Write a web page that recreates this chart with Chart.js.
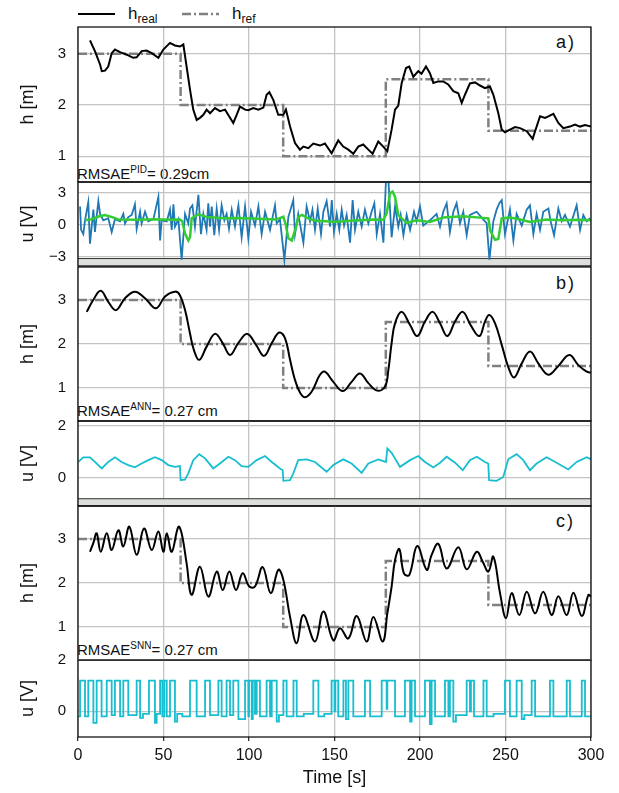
<!DOCTYPE html>
<html>
<head>
<meta charset="utf-8">
<script src="https://cdn.jsdelivr.net/npm/chart.js@4.4.1/dist/chart.umd.min.js"></script>
<style>
  body { margin: 0; background: #fff; font-family: "Liberation Sans", Arial, sans-serif; color: #111; }
  #wrap { position: relative; width: 619px; height: 793px; overflow: hidden; }
  #wrap canvas { position: absolute; left: 0; }
  .txt { position: absolute; white-space: nowrap; line-height: 1; }
  .txt sup { font-size: 10px; vertical-align: 6px; line-height: 0; }
  .txt sub { font-size: 12px; vertical-align: -4px; line-height: 0; }
</style>
</head>
<body>
<div id="wrap">
  <svg style="position:absolute;left:0;top:0" width="619" height="30">
    <line x1="78" y1="14" x2="115" y2="14" stroke="#000" stroke-width="2"/>
    <line x1="182" y1="14" x2="219" y2="14" stroke="#808080" stroke-width="2.5" stroke-dasharray="9 3 2 3"/>
  </svg>
  <div class="txt" style="left:128px;top:5px;font-size:17px">h<sub>real</sub></div>
  <div class="txt" style="left:232px;top:5px;font-size:17px">h<sub>ref</sub></div>

  <div class="txt" style="left:556px;top:33px;font-size:18px;letter-spacing:2px">a)</div>
  <div class="txt" style="left:556px;top:274px;font-size:18px;letter-spacing:2px">b)</div>
  <div class="txt" style="left:556px;top:512px;font-size:18px;letter-spacing:2px">c)</div>

  <div class="txt" style="left:77px;top:166px;font-size:15px">RMSAE<sup>PID</sup>= 0.29cm</div>
  <div class="txt" style="left:77px;top:403px;font-size:15px">RMSAE<sup>ANN</sup>= 0.27 cm</div>
  <div class="txt" style="left:77px;top:642px;font-size:15px">RMSAE<sup>SNN</sup>= 0.27 cm</div>
</div>

<script>
// ---- data (time [s], value) ----
const xTicks = [0, 50, 100, 150, 200, 250, 300];
const hTicks = [1, 2, 3];
const uTicksPid = [-3, 0, 3];
const uTicksNet = [0, 2];

const hRef = [[0, 3], [60, 2], [120, 1], [180, 2.5], [240, 1.5], [300, 1.5]];

const hPid = [[7,3.26],[9.9,3.05],[12.9,2.79],[13.9,2.66],[15.8,2.67],[17.7,2.75],[19.7,3.01],[21.6,3.08],[24.6,3.03],[28.5,2.98],[32.3,2.92],[34.3,2.93],[37.2,3.05],[40.1,3.06],[43.1,3.01],[47,2.92],[49.9,3.08],[53.8,3.21],[56.7,3.16],[59.6,3.14],[61.6,3.18],[63.5,2.75],[65.5,2.3],[67.4,1.91],[69.4,1.71],[71.3,1.75],[73.3,1.81],[75.2,1.91],[77.2,1.84],[80.1,1.94],[83,1.88],[86,1.91],[88.9,1.75],[90.8,1.65],[92.8,1.81],[94.7,1.97],[97.7,1.91],[99.6,1.9],[102.5,1.94],[105.5,1.91],[108.4,1.95],[110.3,2.2],[111.9,2.25],[114.2,2.1],[117.1,1.81],[120.1,1.81],[121.6,1.91],[124,1.58],[126.9,1.26],[129.8,1.13],[131.8,1.19],[134.7,1.16],[137.6,1.25],[141.5,1.21],[144.4,1.25],[148.3,1.06],[152.2,1.31],[155.1,1.19],[158.1,1.13],[161,1.05],[163.9,1.19],[166.8,1.23],[169.8,1.13],[172.3,1.05],[175.6,1.29],[178.5,1.19],[180.9,1.1],[183.4,1.52],[185.4,1.91],[187.3,1.99],[189.3,2.43],[191.8,2.72],[193.7,2.75],[196.1,2.55],[199,2.66],[200.9,2.61],[203.5,2.75],[205.8,2.62],[207.8,2.43],[210.7,2.46],[213.6,2.46],[216.5,2.4],[219.5,2.27],[222.4,2.23],[224.4,2.04],[226.3,2.2],[229.2,2.42],[232.2,2.44],[235.1,2.38],[238,2.33],[240.9,2.36],[242.9,2.2],[245.8,1.84],[247.8,1.52],[249.7,1.47],[252.6,1.52],[255.6,1.57],[258.5,1.55],[262.4,1.49],[265.9,1.34],[267.3,1.49],[270.2,1.78],[273.1,1.75],[275.1,1.78],[278,1.83],[280.9,1.65],[283.8,1.55],[287.7,1.58],[290.6,1.62],[293.6,1.58],[296.5,1.61],[300,1.58]];

const uPid = [[1.2,1.7],[1.8,-0.5],[3.1,-0.9],[4.1,0.4],[6,2.1],[7,-1.8],[9,1.4],[9.9,-0.7],[11.9,2.2],[12.9,1],[14.8,0.4],[17.7,0.6],[19.7,-0.7],[21.6,0.5],[24.6,0.3],[26.5,1],[27.5,0.1],[29.4,0.7],[31.4,0.9],[33.3,1.9],[34.3,-0.4],[36.3,1.2],[37.2,0.1],[39.2,1.2],[41.1,0.3],[44.1,0.5],[47,2.6],[48,-1.5],[48.9,0.4],[51.9,0.3],[53.8,1.4],[54.8,-0.5],[55.8,1.9],[56.7,-0.2],[58.7,0.5],[60.6,-3.3],[62.6,1],[64.5,0.1],[65.5,1.5],[66.9,1.8],[68.4,-0.2],[70.4,2.8],[71.9,-0.9],[73.3,1],[75.2,-0.5],[76.2,2],[77.2,-0.2],[78.2,1.7],[79.7,-1],[81.1,1.5],[82.5,-0.5],[84,1.8],[85.6,0.4],[86.9,1],[88.3,-0.4],[89.9,1.4],[91.8,-0.2],[93.8,1.8],[95.7,-1.2],[97.7,1.7],[99.6,-1.3],[101.2,1.2],[103.5,-0.1],[105.5,1.7],[107.4,-0.9],[109.4,1.2],[112.3,-0.5],[115.2,1.8],[116.2,0.1],[118.1,0.5],[120.7,-3.3],[123,0.7],[125.9,2.3],[126.9,-0.9],[128.8,1],[131.8,-1.7],[133.7,1.7],[135.7,0.3],[137.1,1.4],[138.6,-0.5],[140.2,1.5],[142.1,-0.9],[143.5,1.2],[145.4,2.2],[147.4,-0.2],[148.4,2.3],[149.7,-0.7],[151.3,1],[152.8,-0.5],[154.2,1.4],[155.6,-0.1],[157.1,0.9],[159.1,-1.7],[160.6,2.3],[162,-0.5],[163.9,1.2],[165.9,-0.2],[167.8,1.4],[169.8,0.1],[171.7,1.2],[173.3,2],[174.7,-0.9],[176.6,1],[178.6,-1.7],[180.1,4.2],[181.5,4.2],[183.4,-1.2],[185.4,1.7],[187.3,-0.2],[188.7,0.9],[190.3,-1],[192.2,0.9],[194.2,-0.5],[196.5,1.2],[198,0.3],[200,1.7],[201.9,-0.1],[205.8,0.4],[209.7,1],[211.7,-0.2],[213.6,1.2],[215.6,2],[217.5,-0.7],[219.5,1.2],[221.4,2],[223.4,0.1],[225.3,1.2],[227.3,-1],[229.2,0.9],[233.1,1.2],[239,0.1],[240.6,-3.3],[242.9,0.3],[244.8,1.4],[246.4,2],[247.8,2.3],[249.7,-0.9],[252.6,1.4],[254.6,-1.5],[256.5,1],[259.5,-0.1],[262.4,1.4],[264.3,1.8],[266.3,-0.9],[268.2,1],[270.2,-0.5],[272.1,1.2],[275.1,1.5],[276.4,0.3],[278.4,-1],[280.9,1.5],[282.9,0.3],[284.8,0.9],[287.7,-0.2],[291.6,1.8],[293.6,-0.5],[295.5,0.9],[297.5,0.3],[299.4,0.6]];

const uPidFilt = [[4.1,0.41],[8,0.5],[12,0.75],[15.8,0.89],[20,0.7],[23.6,0.48],[35,0.45],[45,0.5],[55,0.45],[59.6,0.48],[61,0.3],[62.5,-0.8],[64.5,-1.5],[65.5,-1.2],[66.5,0.6],[70.4,0.95],[75,0.72],[85,0.6],[95,0.62],[105,0.55],[112,0.5],[115.2,0.48],[118,0.6],[120.1,0.73],[121.5,0],[123,-1.3],[125,-1.5],[127,-0.5],[129,0.73],[131,0.9],[135,0.55],[138.6,0.35],[145,0.3],[150.3,0.25],[159,0.35],[165,0.4],[172.7,0.48],[178.6,0.45],[180.5,1.05],[182.5,2.95],[184,3.1],[185.4,2.6],[187.3,0.89],[192.2,0.16],[198,0.41],[205.8,0.25],[213.6,0.67],[225.3,0.79],[235,0.65],[240,0.57],[241,-0.54],[243.9,-1.43],[245.8,-1.35],[247.8,0.57],[252.6,0.67],[258,0.5],[264.3,0.25],[274,0.48],[283.8,0.41],[292,0.45],[300,0.41]];

const hAnn = [[5.1,2.73],[8.9,3.0],[13.3,3.21],[17.7,2.96],[22.2,2.77],[27.5,3.04],[33.3,3.19],[39.2,3.04],[45.6,2.81],[50.9,3.08],[56.7,3.19],[59.6,3.11],[62.6,2.77],[65.5,2.24],[67.8,1.86],[70.9,1.64],[75.2,1.94],[80.1,2.23],[84.6,2.02],[88.9,1.75],[93.7,2.02],[99,2.23],[104.1,1.98],[108.8,1.73],[113.3,2.02],[117.7,2.26],[121.1,2.13],[124,1.64],[126.9,1.18],[129.8,0.9],[132.7,0.79],[136.7,0.92],[141.5,1.3],[144.4,1.37],[149.3,1.14],[154.8,0.93],[160,1.14],[164.9,1.33],[169.8,1.11],[175,0.94],[179.5,1.03],[181.5,1.41],[183.4,2.02],[185.4,2.47],[189.3,2.73],[194.2,2.43],[198.4,2.18],[202.9,2.51],[207.4,2.73],[211.7,2.47],[216,2.18],[220.5,2.51],[225,2.73],[229.6,2.43],[234.7,2.18],[238,2.51],[240.5,2.66],[243.9,2.47],[247.8,1.98],[251.6,1.48],[255,1.24],[259.5,1.56],[264.3,1.83],[269.2,1.56],[275,1.3],[280.9,1.5],[287.3,1.75],[292.6,1.52],[297.5,1.37],[300,1.35]];

const uAnn = [[0.2,0.6],[3.1,0.78],[7,0.78],[9.9,0.6],[13.9,0.35],[17.7,0.6],[21.6,0.78],[25.5,0.6],[29.4,0.48],[33.3,0.39],[37.2,0.54],[41.1,0.67],[45,0.78],[48.9,0.67],[52.8,0.48],[56.7,0.41],[59.6,0.44],[60,-0.1],[62.6,-0.08],[64.5,0.16],[67.4,0.67],[70.9,0.9],[74.3,0.74],[79.1,0.35],[83,0.54],[87.9,0.8],[91.8,0.67],[95.7,0.44],[99.6,0.41],[104.5,0.67],[109.4,0.83],[113.3,0.6],[118.1,0.35],[119.7,0.28],[120.1,-0.13],[124,-0.1],[125.9,0.16],[128.8,0.67],[133.7,0.7],[138.6,0.6],[145.4,0.22],[149.3,0.48],[155.1,0.7],[160,0.54],[165.9,0.18],[169.8,0.54],[175.6,0.7],[180.1,0.6],[180.9,1.12],[183.4,0.95],[188.3,0.41],[194.2,0.67],[199,0.83],[202.9,0.6],[207.8,0.39],[211.7,0.57],[215.6,0.8],[220.5,0.57],[225,0.28],[229.2,0.67],[233.2,0.8],[238,0.6],[239.9,0.54],[240.4,-0.1],[244.8,-0.13],[248.7,0.02],[251.6,0.7],[256.5,0.9],[260.4,0.67],[264.3,0.28],[268.2,0.54],[274,0.78],[279.9,0.57],[286.7,0.31],[291.6,0.6],[297.5,0.78],[300,0.7]];

const hSnn = [[7,2.71],[8.9,2.9],[10.9,3.13],[13.3,2.71],[16.8,3.13],[19.7,2.75],[23.6,3.2],[26.5,2.83],[30,3.28],[34.3,2.64],[38.6,3.24],[43.1,2.75],[47,3.17],[49.9,2.71],[51.9,3.13],[54.8,2.71],[58.7,3.28],[60.6,3.13],[63.5,2.45],[66.5,1.73],[71.3,2.37],[76.2,1.69],[81.1,2.26],[84.6,1.84],[88.5,2.26],[92.4,1.84],[96.3,2.22],[100.2,1.92],[103.5,1.92],[108,2.36],[112.7,1.77],[117.2,2.3],[120.1,2.07],[124,1.23],[127.9,0.63],[131.8,1.27],[138.6,0.67],[143.5,1.35],[149.3,0.7],[153.2,0.97],[158.1,0.74],[163,1.25],[168.8,0.67],[172.7,1.23],[178.2,0.67],[180.9,1.31],[183.4,1.92],[185.4,2.52],[187.9,2.77],[190.6,2.22],[193.7,2.18],[198.4,2.84],[203.9,2.3],[206.8,2.64],[210.7,2.89],[215.6,2.33],[222.4,2.81],[227.3,2.31],[233.2,2.71],[236.7,2.48],[240,2.26],[242.9,2.6],[246.8,1.77],[250.3,1.2],[253.6,1.77],[258.1,1.27],[262.4,1.8],[267.3,1.31],[272.1,1.8],[277,1.27],[280.9,1.7],[285.8,1.27],[289.7,1.78],[294.6,1.25],[298.5,1.73],[300,1.69]];

// switching points of the SNN command (value holds until the next point)
const uSnn = [[0,-0.2],[1.2,1.2],[4.1,-0.2],[6,1.2],[9,-0.45],[10.9,1.2],[13.8,-0.2],[16.8,1.2],[19.7,-0.15],[21.6,1.2],[24.6,-0.2],[26.5,1.2],[29.4,-0.15],[34.3,1.2],[36.3,-0.25],[38,-0.1],[41.5,1.2],[45,-0.45],[46,-0.1],[48,1.2],[49.3,-0.2],[50.5,1.2],[51.9,-0.2],[53.8,1.2],[56.7,-0.4],[58,-0.1],[61,-0.2],[65.5,1.2],[69.4,-0.2],[74.3,1.2],[77.2,-0.15],[82.1,1.2],[84,-0.2],[86.9,1.2],[88.9,-0.15],[90.8,1.2],[93.8,-0.3],[97.7,1.2],[99.6,-0.2],[100,1.2],[101.6,-0.3],[102.2,1.2],[103.5,-0.1],[104.5,1.2],[106.4,-0.2],[110.3,1.2],[112.3,-0.2],[113.3,1.2],[116.2,-0.4],[117.5,-0.15],[120.1,1.2],[122,-0.2],[126,1.2],[127.9,-0.2],[132,-0.1],[137.6,1.2],[140.6,-0.2],[144,-0.1],[148.3,1.2],[150,0],[150.5,1.2],[152.2,-0.2],[155.2,1.2],[156.7,-0.3],[158.1,1.2],[161,-0.2],[167.8,1.2],[170.8,-0.2],[177.6,1.2],[180.5,0.1],[180.9,1.2],[185.4,-0.2],[191.2,1.2],[194.2,-0.4],[195.1,1.2],[197.1,-0.2],[202.9,1.2],[205.8,-0.5],[206.8,1.2],[208.8,-0.2],[214.6,1.2],[216.6,-0.2],[217.5,1.2],[219.5,-0.4],[221,-0.15],[227.3,1.2],[229.2,0],[229.8,1.2],[231.6,-0.2],[237.1,1.2],[239,-0.2],[243,-0.1],[249.7,1.2],[252.6,-0.2],[256.5,1.2],[259.5,-0.3],[261,-0.15],[265.3,1.2],[267.3,-0.2],[276,1.2],[278,-0.2],[285.8,1.2],[287.7,-0.2],[294.6,1.2],[296.5,-0.2],[300,-0.2]];

// saturation bands drawn under the command panels
const bandPid = [[0, -3.2], [300, -3.2]];
const bandAnn = [[0, -0.82], [300, -0.82]];

// ---- layout ----
const W = 619, H = 793, PLOT_R = 591;
const PAD = 12; // canvas overhang above/below each plot area, room for edge labels
const GRID = '#c4c4c4';
const wrap = document.getElementById('wrap');

const framePlugin = {
  id: 'frame',
  afterDatasetsDraw(chart) {
    const { ctx, chartArea: a } = chart;
    ctx.save();
    ctx.strokeStyle = '#000';
    ctx.lineWidth = 1.2;
    ctx.strokeRect(a.left, a.top, a.right - a.left, a.bottom - a.top);
    ctx.restore();
  }
};

const pts = arr => arr.map(p => ({ x: p[0], y: p[1] }));

function line(data, color, width, extra) {
  return Object.assign({
    data: pts(data), borderColor: color, borderWidth: width,
    pointRadius: 0, fill: false, tension: 0
  }, extra || {});
}
function refLine() {
  return line(hRef, '#808080', 2.5, { stepped: true, borderDash: [9, 3, 2, 3] });
}
function band(data) {
  return line(data, '#333', 1, { fill: 'start', backgroundColor: '#dcdfdc' });
}

function makePanel(top, bottom, p) {
  const last = !!p.last;
  const cTop = top - PAD;
  const cH = last ? H - cTop : bottom - top + 2 * PAD;
  const canvas = document.createElement('canvas');
  canvas.width = W;
  canvas.height = cH;
  canvas.style.top = cTop + 'px';
  wrap.appendChild(canvas);

  return new Chart(canvas, {
    type: 'line',
    data: { datasets: p.datasets },
    plugins: [framePlugin],
    options: {
      responsive: false,
      animation: false,
      layout: { padding: { left: 0, right: W - PLOT_R, top: PAD, bottom: last ? 0 : PAD } },
      plugins: { legend: { display: false }, tooltip: { enabled: false } },
      scales: {
        x: {
          type: 'linear', min: 0, max: 300,
          afterBuildTicks: s => { s.ticks = xTicks.map(v => ({ value: v })); },
          afterFit: s => { s.height = last ? H - 737 : 0; },
          border: { display: false },
          grid: { color: GRID, lineWidth: 1.3, drawTicks: last, tickLength: 4, tickColor: '#333' },
          ticks: { display: last, padding: 5, color: '#111', font: { size: 16, family: 'Liberation Sans' } },
          title: {
            display: last, text: 'Time [s]', color: '#111',
            font: { size: 18, family: 'Liberation Sans' }, padding: { top: 0, bottom: 4 }
          }
        },
        y: {
          min: p.min, max: p.max,
          afterBuildTicks: s => { s.ticks = p.ticks.map(v => ({ value: v })); },
          afterFit: s => { s.width = 78; s.paddingTop = 0; s.paddingBottom = 0; },
          border: { display: false },
          grid: { color: GRID, lineWidth: 1.3, drawTicks: false },
          ticks: {
            padding: 12, color: '#111', font: { size: 15, family: 'Liberation Sans' },
            callback: v => (v < 0 ? '\u2212' + Math.abs(v) : String(v))
          },
          title: {
            display: true, text: p.title, color: '#111',
            font: { size: 18, family: 'Liberation Sans' }, padding: { top: 17, bottom: 0 }
          }
        }
      }
    }
  });
}

// a) PID
makePanel(27, 182, {
  min: 0.5, max: 3.52, ticks: hTicks, title: 'h [m]',
  datasets: [line(hPid, '#000', 2), refLine()]
});
makePanel(182, 266, {
  min: -3.9, max: 4.0, ticks: uTicksPid, title: 'u [V]',
  datasets: [line(uPidFilt, '#33cc33', 2.5), line(uPid, '#1f77b4', 1.8), band(bandPid)]
});
// b) ANN
makePanel(267, 421, {
  min: 0.25, max: 3.75, ticks: hTicks, title: 'h [m]',
  datasets: [line(hAnn, '#000', 2, { tension: 0.4 }), refLine()]
});
makePanel(421, 506, {
  min: -1.1, max: 2.18, ticks: uTicksNet, title: 'u [V]',
  datasets: [line(uAnn, '#17becf', 1.8), band(bandAnn)]
});
// c) SNN
makePanel(506, 660, {
  min: 0.25, max: 3.75, ticks: hTicks, title: 'h [m]',
  datasets: [line(hSnn, '#000', 2, { tension: 0.4 }), refLine()]
});
makePanel(660, 737, {
  last: true,
  min: -1.0, max: 2.0, ticks: uTicksNet, title: 'u [V]',
  datasets: [line(uSnn, '#17becf', 1.8, { stepped: true })]
});
</script>
</body>
</html>
